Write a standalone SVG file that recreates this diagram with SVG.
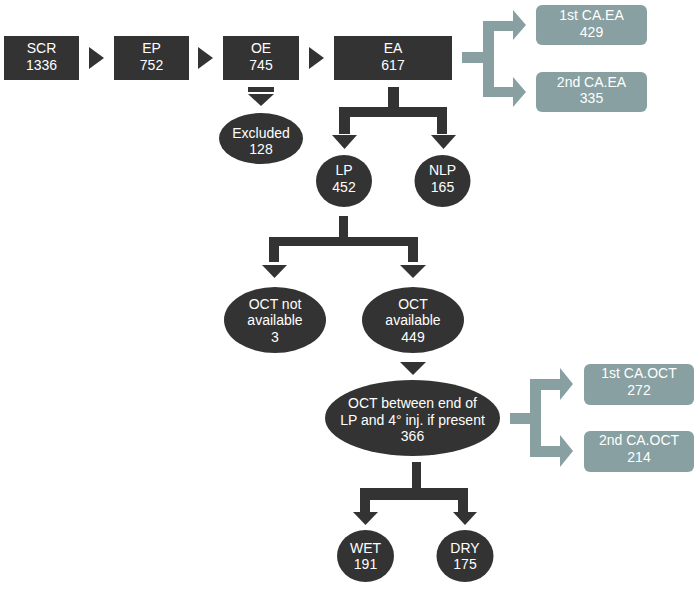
<svg xmlns="http://www.w3.org/2000/svg" width="700" height="590" viewBox="0 0 700 590">
<style>
.d{fill:#333333}
.g{fill:#88a0a1}
text{font-family:"Liberation Sans",Arial,sans-serif;font-size:14px;fill:#ffffff;text-anchor:middle}
</style>
<rect width="700" height="590" fill="#ffffff"/>
<g id="connectors">
<polygon class="d" points="89,47 104,58 89,69"/>
<polygon class="d" points="198,47 213,58 198,69"/>
<polygon class="d" points="309,47 324,58 309,69"/>
<rect class="d" x="248" y="87" width="26" height="5"/>
<polygon class="d" points="248,94 274,94 261,106"/>
<path class="d" d="M388,87 H399 V107 H447 V134 H437 V117 H350 V134 H339 V107 H388 Z"/>
<polygon class="d" points="332,135 357,135 344.5,149"/>
<polygon class="d" points="431,135 456,135 443.5,149"/>
<path class="d" d="M339,216 H348 V237 H418 V262 H408 V246 H279 V262 H269 V237 H339 Z"/>
<polygon class="d" points="262,265 287,265 274.5,278"/>
<polygon class="d" points="400,265 426,265 413,278"/>
<polygon class="d" points="400,362 426,362 413,375"/>
<path class="d" d="M412,462 H421 V488 H468 V512 H458 V500 H370 V512 H360 V488 H412 Z"/>
<polygon class="d" points="353,512 378,512 365.5,525"/>
<polygon class="d" points="453,512 477,512 465,525"/>
<path class="g" d="M462,52 H483 V21 H513 V31 H494 V87 H513 V97 H483 V63 H462 Z"/>
<polygon class="g" points="513,10 526,25 513,40"/>
<polygon class="g" points="513,77 526,92 513,107"/>
<path class="g" d="M510,413 H530 V379 H560 V390 H541 V446 H560 V457 H530 V424 H510 Z"/>
<polygon class="g" points="560,368 573,384 560,400"/>
<polygon class="g" points="560,435 573,451 560,467"/>
</g>
<g id="scr"><rect class="d" x="4" y="36" width="75" height="44"/><text x="41.5" y="53">SCR</text><text x="41.5" y="70">1336</text></g>
<g id="ep"><rect class="d" x="114" y="36" width="75" height="44"/><text x="151.5" y="53">EP</text><text x="151.5" y="70">752</text></g>
<g id="oe"><rect class="d" x="223" y="36" width="76" height="44"/><text x="261" y="53">OE</text><text x="261" y="70">745</text></g>
<g id="ea"><rect class="d" x="334" y="36" width="118" height="44"/><text x="393" y="53">EA</text><text x="393" y="70">617</text></g>
<g id="excluded"><ellipse class="d" cx="261" cy="138.5" rx="42" ry="25.5"/><text x="261" y="138">Excluded</text><text x="261" y="154">128</text></g>
<g id="ca-ea-1"><rect class="g" x="536" y="5" width="111" height="40" rx="6"/><text x="591.5" y="20">1st CA.EA</text><text x="591.5" y="37">429</text></g>
<g id="ca-ea-2"><rect class="g" x="536" y="72" width="111" height="40" rx="6"/><text x="591.5" y="87">2nd CA.EA</text><text x="591.5" y="103">335</text></g>
<g id="lp"><ellipse class="d" cx="344" cy="181" rx="28" ry="26"/><text x="344" y="175">LP</text><text x="344" y="192">452</text></g>
<g id="nlp"><ellipse class="d" cx="442.5" cy="181" rx="28" ry="26"/><text x="442.5" y="175">NLP</text><text x="442.5" y="192">165</text></g>
<g id="oct-na"><ellipse class="d" cx="275" cy="320" rx="51" ry="33"/><text x="275" y="309">OCT not</text><text x="275" y="325">available</text><text x="275" y="342">3</text></g>
<g id="oct-a"><ellipse class="d" cx="413" cy="320" rx="51" ry="33"/><text x="413" y="309">OCT</text><text x="413" y="325">available</text><text x="413" y="342">449</text></g>
<g id="oct-between"><ellipse class="d" cx="412.5" cy="418" rx="87.5" ry="38"/><text x="412.5" y="408">OCT between end of</text><text x="412.5" y="425">LP and 4° inj. if present</text><text x="412.5" y="441">366</text></g>
<g id="ca-oct-1"><rect class="g" x="584" y="364" width="110" height="41" rx="6"/><text x="639" y="378">1st CA.OCT</text><text x="639" y="395">272</text></g>
<g id="ca-oct-2"><rect class="g" x="584" y="431" width="110" height="41" rx="6"/><text x="639" y="445">2nd CA.OCT</text><text x="639" y="462">214</text></g>
<g id="wet"><ellipse class="d" cx="365.5" cy="556" rx="28.5" ry="26"/><text x="365.5" y="553">WET</text><text x="365.5" y="569">191</text></g>
<g id="dry"><ellipse class="d" cx="465" cy="556" rx="28.5" ry="26"/><text x="465" y="553">DRY</text><text x="465" y="569">175</text></g>
</svg>
